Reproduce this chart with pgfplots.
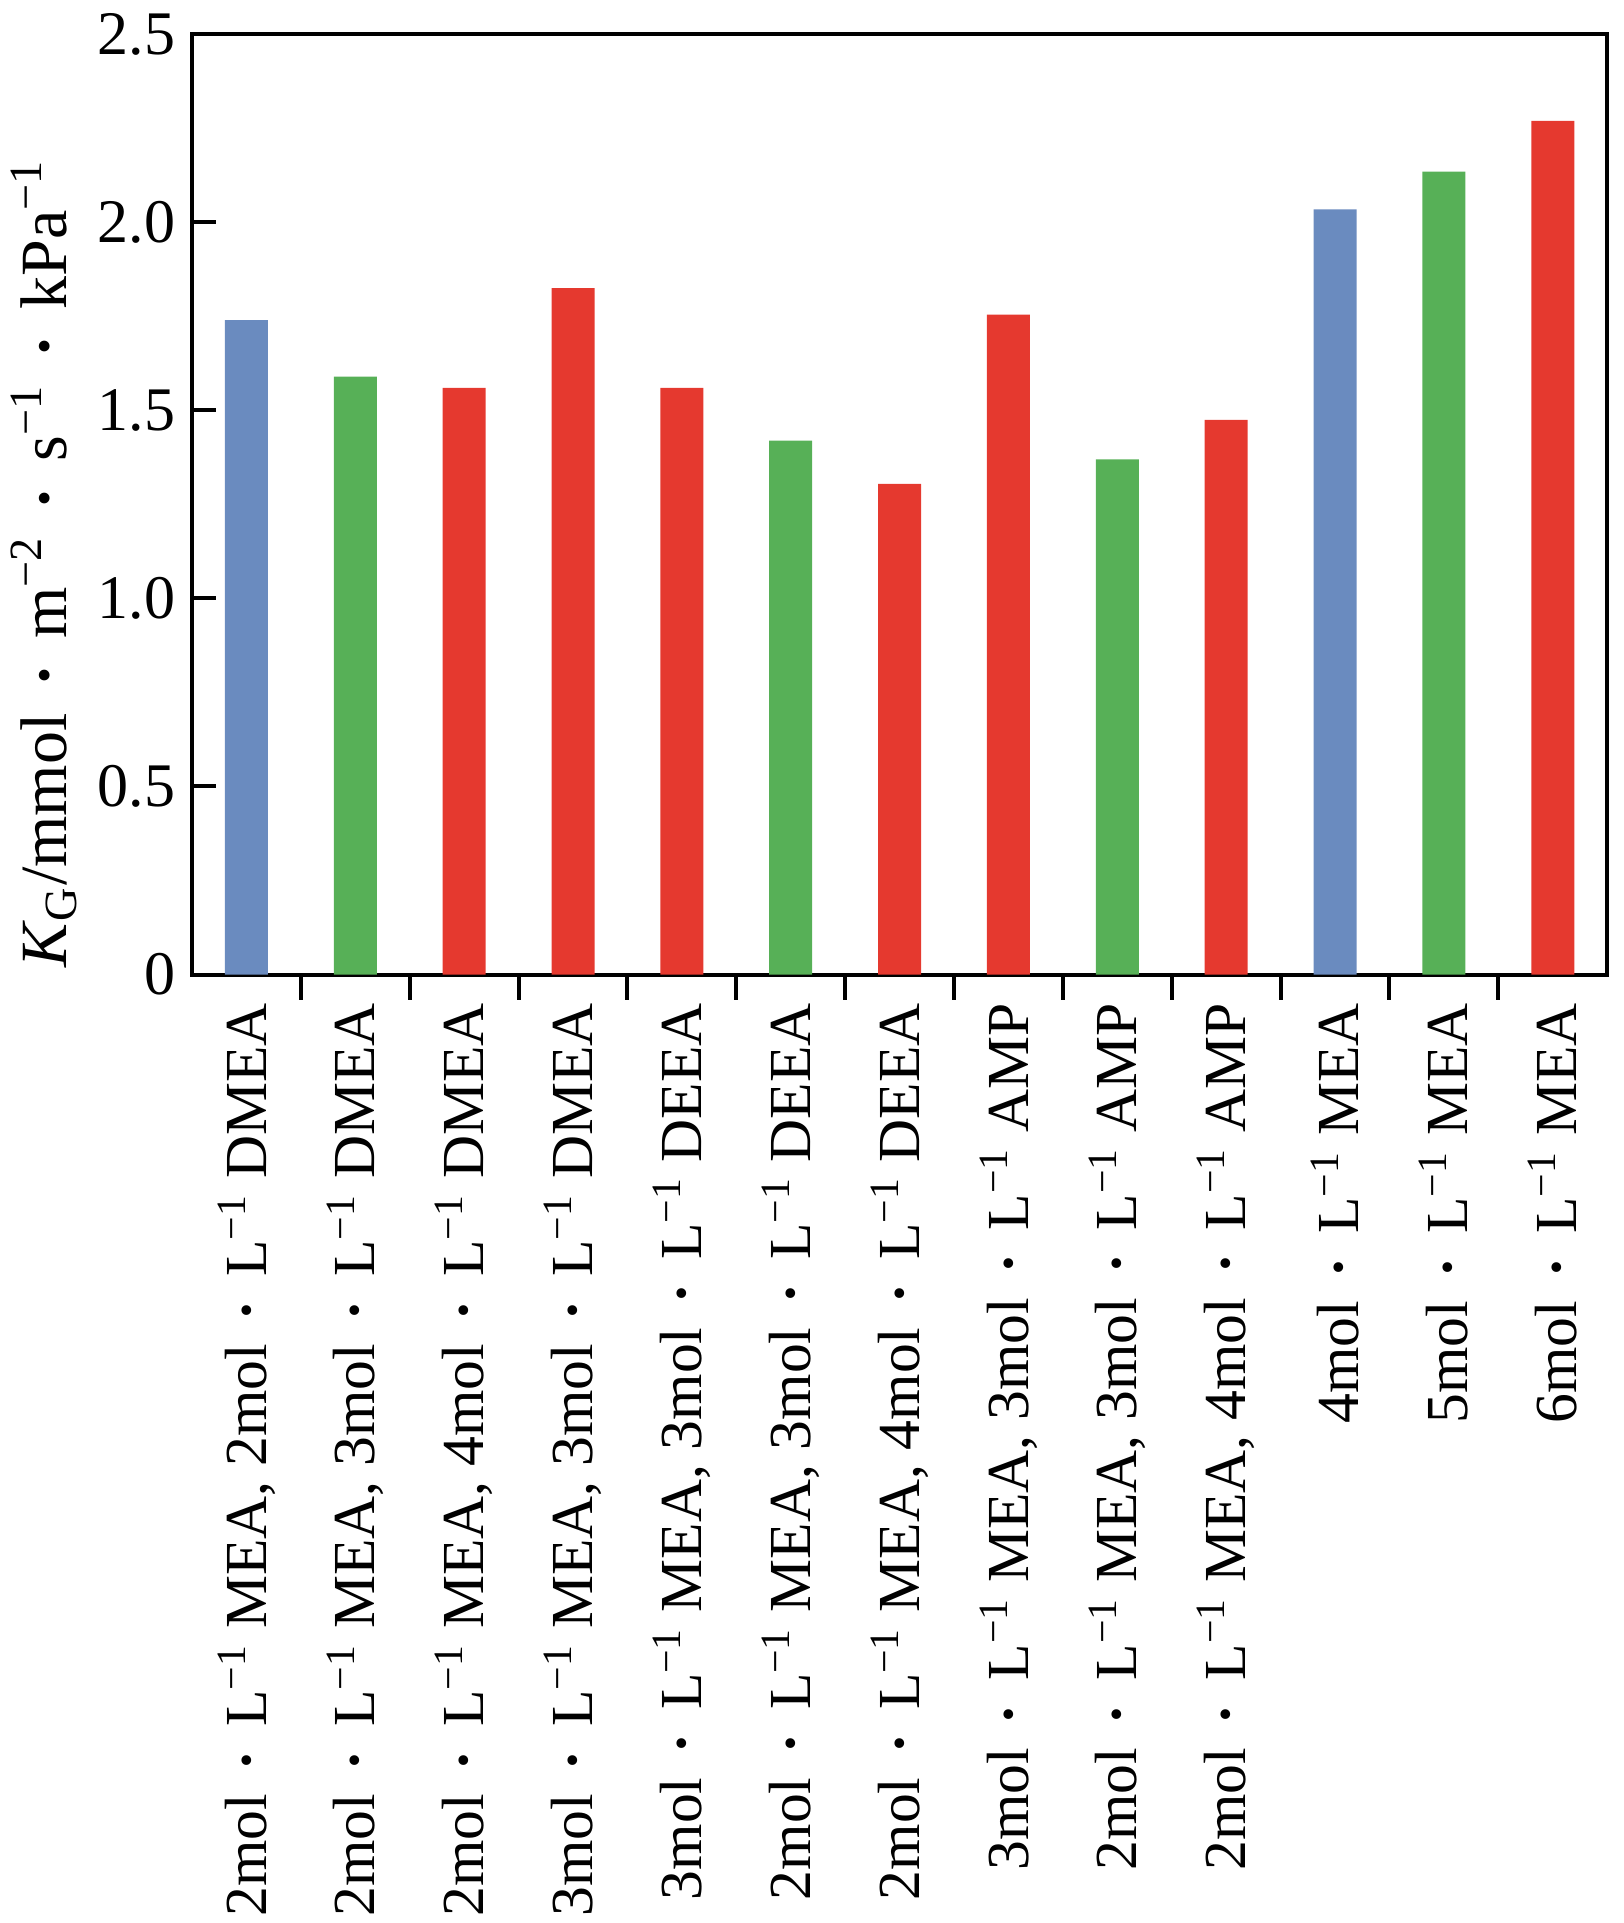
\documentclass[border=0pt]{standalone}
\usepackage{fontspec}
\setmainfont{Liberation Serif}
\usepackage{pgfplots}
\pgfplotsset{compat=1.18}
\definecolor{cblue}{HTML}{6A8BBF}
\definecolor{cgreen}{HTML}{57B057}
\definecolor{cred}{HTML}{E5392F}
\newcommand{\dt}{\hspace{0.4em}\textbf{·}\hspace{0.4em}}
\newcommand{\Li}{L\textsuperscript{−1}}
\begin{document}
\begin{tikzpicture}
\useasboundingbox (-48pt,-237.1pt) rectangle (357.75pt,243.6pt);
\begin{axis}[
  at={(0,0)}, anchor=south west,
  scale only axis, width=353.75pt, height=235pt,
  xmin=-0.5, xmax=12.5, ymin=0, ymax=2.5,
  axis line style={line width=1pt},
  every tick/.style={black, line width=1pt},
  major tick length=6pt, minor tick length=6.25pt,
  xtick={0,1,2,3,4,5,6,7,8,9,10,11,12},
  minor xtick={0.5,1.5,2.5,3.5,4.5,5.5,6.5,7.5,8.5,9.5,10.5,11.5},
  major x tick style={draw=none},
  xtick pos=bottom, ytick pos=left,
  ytick={0,0.5,1,1.5,2,2.5},
  yticklabels={0,0.5,1.0,1.5,2.0,2.5},
  yticklabel style={font=\fontsize{15.5}{18}\selectfont, anchor=east, inner sep=0pt, xshift=-4pt},
  xticklabel style={font=\fontsize{14.9}{18}\selectfont, rotate=90, anchor=east, inner sep=0pt},
  xticklabel shift=1pt,
  xticklabels={
    {2mol\dt\Li{} MEA, 2mol\dt\Li{} DMEA},
    {2mol\dt\Li{} MEA, 3mol\dt\Li{} DMEA},
    {2mol\dt\Li{} MEA, 4mol\dt\Li{} DMEA},
    {3mol\dt\Li{} MEA, 3mol\dt\Li{} DMEA},
    {3mol\dt\Li{} MEA, 3mol\dt\Li{} DEEA},
    {2mol\dt\Li{} MEA, 3mol\dt\Li{} DEEA},
    {2mol\dt\Li{} MEA, 4mol\dt\Li{} DEEA},
    {3mol\dt\Li{} MEA, 3mol\dt\Li{} AMP},
    {2mol\dt\Li{} MEA, 3mol\dt\Li{} AMP},
    {2mol\dt\Li{} MEA, 4mol\dt\Li{} AMP},
    {4mol\dt\Li{} MEA},
    {5mol\dt\Li{} MEA},
    {6mol\dt\Li{} MEA}},
  ylabel={\textit{K}\textsubscript{G}/mmol\dt m\textsuperscript{−2}\dt s\textsuperscript{−1}\dt kPa\textsuperscript{−1}},
  ylabel style={font=\fontsize{16.5}{19}\selectfont, at={(axis description cs:-0.1046,0.437)}, anchor=center},
  ybar, bar width=0.395, bar shift=0pt,
]
\addplot[fill=cblue, draw=none] coordinates {(0,1.74) (10,2.035)};
\addplot[fill=cgreen, draw=none] coordinates {(1,1.59) (5,1.42) (8,1.37) (11,2.135)};
\addplot[fill=cred, draw=none] coordinates {(2,1.56) (3,1.825) (4,1.56) (6,1.305) (7,1.755) (9,1.475) (12,2.27)};
\end{axis}
\end{tikzpicture}
\end{document}
